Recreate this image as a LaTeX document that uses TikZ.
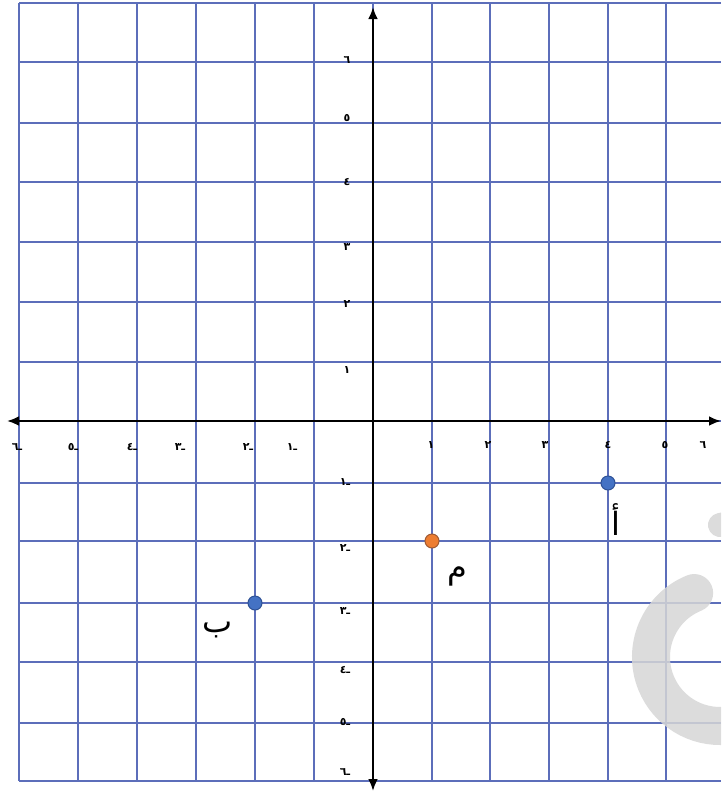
\documentclass[tikz,border=0pt]{standalone}
\usepackage{fontspec}
\usetikzlibrary{arrows.meta}
\TeXXeTstate=1
\newfontfamily\arabicfont[Script=Arabic]{DejaVu Sans}
\definecolor{gridblue}{RGB}{92,110,186}
\definecolor{ptblue}{RGB}{68,114,196}
\definecolor{ptblueedge}{RGB}{47,82,150}
\definecolor{ptorange}{RGB}{237,125,49}
\definecolor{ptorangeedge}{RGB}{160,90,50}
\definecolor{wmgray}{RGB}{214,214,214}
\begin{document}
\begin{tikzpicture}[x=1pt,y=-1pt,
  gridline/.style={draw=gridblue,line width=1.15pt},
  axisline/.style={draw=black,line width=2.8pt,{Latex[length=12pt,width=10pt]}-{Latex[length=12pt,width=10pt]}},
  lbl/.style={inner sep=0pt,font=\arabicfont\bfseries\fontsize{11}{12}\selectfont},
  letter/.style={inner sep=0pt,font=\arabicfont\fontsize{32}{34}\selectfont},
  pt/.style={circle,inner sep=0pt,minimum size=14pt,line width=1pt}]
\useasboundingbox (0,0) rectangle (721,793);
\fill[white] (0,0) rectangle (721,793);
\begin{scope}
\clip (0,0) rectangle (721,793);
% grid
\foreach \x in {19,78,137,196,255,314,373,432,490,549,608,666}
  \draw[gridline] (\x,3) -- (\x,781);
\foreach \y in {3,62,123,182,242,302,362,421,483,541,603,662,723,781}
  \draw[gridline] (19,\y) -- (721,\y);
% axes
\coordinate (xl) at (7,421);
\coordinate (xr) at (721,421);
\coordinate (yt) at (373,7);
\coordinate (yb) at (373,791);
\draw[axisline] (xl) -- (xr);
\draw[axisline] (yb) -- (yt);
% watermark
\draw[wmgray,opacity=0.85,line width=38pt,line cap=round]
  (720,657) ++(-112:69) arc[start angle=-112,end angle=-275,radius=69];
\draw[wmgray,opacity=0.85,line width=24pt,line cap=round] (720,525) -- (745,520);
\end{scope}
% x labels positive
\node[lbl] (xp1) at (431,445) {\beginR ١\endR};
\node[lbl] (xp2) at (488,445) {\beginR ٢\endR};
\node[lbl] (xp3) at (545,445) {\beginR ٣\endR};
\node[lbl] (xp4) at (608,445) {\beginR ٤\endR};
\node[lbl] (xp5) at (665,445) {\beginR ٥\endR};
\node[lbl] (xp6) at (703,445) {\beginR ٦\endR};
% x labels negative
\node[lbl] (xn6) at (17,447) {\beginR ـ٦\endR};
\node[lbl] (xn5) at (73,447) {\beginR ـ٥\endR};
\node[lbl] (xn4) at (132,447) {\beginR ـ٤\endR};
\node[lbl] (xn3) at (180,447) {\beginR ـ٣\endR};
\node[lbl] (xn2) at (248,447) {\beginR ـ٢\endR};
\node[lbl] (xn1) at (292,447) {\beginR ـ١\endR};
% y labels positive
\node[lbl] (yp6) at (347,60) {\beginR ٦\endR};
\node[lbl] (yp5) at (347,118) {\beginR ٥\endR};
\node[lbl] (yp4) at (347,182) {\beginR ٤\endR};
\node[lbl] (yp3) at (347,247) {\beginR ٣\endR};
\node[lbl] (yp2) at (347,304) {\beginR ٢\endR};
\node[lbl] (yp1) at (347,370) {\beginR ١\endR};
% y labels negative
\node[lbl] (yn1) at (345,482) {\beginR ـ١\endR};
\node[lbl] (yn2) at (345,548) {\beginR ـ٢\endR};
\node[lbl] (yn3) at (345,611) {\beginR ـ٣\endR};
\node[lbl] (yn4) at (345,670) {\beginR ـ٤\endR};
\node[lbl] (yn5) at (345,722) {\beginR ـ٥\endR};
\node[lbl] (yn6) at (345,772) {\beginR ـ٦\endR};
% points
\node[pt,fill=ptblue,draw=ptblueedge] (B) at (255,603) {};
\node[pt,fill=ptorange,draw=ptorangeedge] (M) at (432,541) {};
\node[pt,fill=ptblue,draw=ptblueedge] (A) at (608,483) {};
\node[letter] (Bl) at (218,630) {\beginR ب\endR};
\node[letter] (Ml) at (457,576) {\beginR م\endR};
\node[letter] (Al) at (616,520) {\beginR أ\endR};
\end{tikzpicture}
\end{document}
